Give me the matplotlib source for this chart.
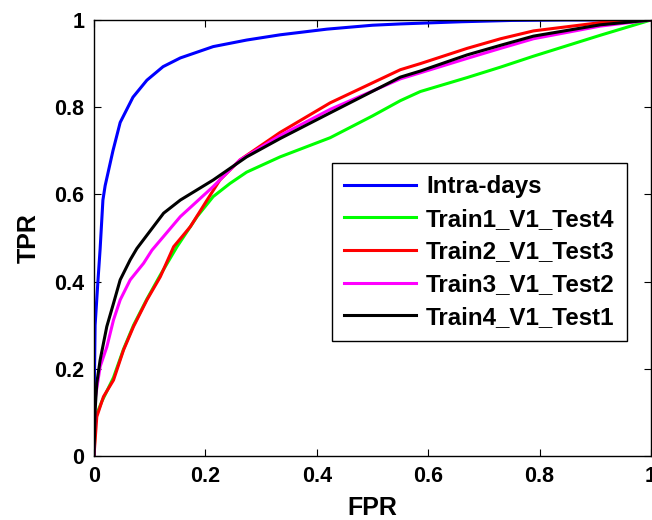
import matplotlib
matplotlib.use("Agg")
import matplotlib.pyplot as plt

plt.rcParams['font.family'] = ['Liberation Sans', 'DejaVu Sans']
plt.rcParams['font.weight'] = 'bold'

labels = ["Intra-days", "Train1_V1_Test4", "Train2_V1_Test3", "Train3_V1_Test2", "Train4_V1_Test1"]
colors = ["#0000ff", "#00ff00", "#ff0000", "#ff00ff", "#000000"]

intra_fpr = [0, 0, 0.002, 0.007, 0.011, 0.016, 0.02, 0.034, 0.047, 0.07, 0.095, 0.124, 0.155, 0.214,
             0.274, 0.334, 0.418, 0.5, 0.55, 0.66, 0.75, 0.85, 1.0]
intra_tpr = [0, 0.1, 0.3, 0.40, 0.475, 0.587, 0.62, 0.70, 0.765, 0.823, 0.862, 0.893, 0.913, 0.939,
             0.954, 0.966, 0.979, 0.988, 0.991, 0.996, 0.999, 1.0, 1.0]

t1_fpr = [0, 0.003, 0.014, 0.035, 0.053, 0.071, 0.095, 0.119, 0.149, 0.185, 0.214, 0.244, 0.274, 0.334,
          0.424, 0.5, 0.55, 0.586, 0.67, 0.73, 0.789, 0.909, 1.0]
t1_tpr = [0, 0.09, 0.125, 0.18, 0.245, 0.30, 0.36, 0.415, 0.48, 0.549, 0.595, 0.625, 0.651, 0.686,
          0.73, 0.78, 0.815, 0.836, 0.868, 0.892, 0.917, 0.965, 1.0]

t2_fpr = [0, 0.005, 0.017, 0.035, 0.053, 0.071, 0.095, 0.119, 0.143, 0.173, 0.203, 0.226, 0.262, 0.334,
          0.424, 0.55, 0.586, 0.67, 0.73, 0.789, 0.909, 1.0]
t2_tpr = [0, 0.09, 0.136, 0.174, 0.243, 0.297, 0.358, 0.411, 0.48, 0.526, 0.587, 0.633, 0.679, 0.742,
          0.81, 0.886, 0.90, 0.935, 0.957, 0.975, 0.994, 1.0]

t3_fpr = [0, 0.002, 0.011, 0.023, 0.035, 0.047, 0.065, 0.089, 0.104, 0.155, 0.214, 0.262, 0.334,
          0.424, 0.55, 0.586, 0.67, 0.73, 0.789, 0.909, 1.0]
t3_tpr = [0, 0.13, 0.205, 0.25, 0.312, 0.358, 0.404, 0.442, 0.472, 0.549, 0.618, 0.679, 0.735,
          0.795, 0.865, 0.879, 0.912, 0.935, 0.957, 0.986, 1.0]

t4_fpr = [0, 0.002, 0.005, 0.011, 0.023, 0.035, 0.047, 0.065, 0.077, 0.125, 0.155, 0.214, 0.274, 0.334,
          0.424, 0.55, 0.586, 0.67, 0.73, 0.789, 0.909, 1.0]
t4_tpr = [0, 0.105, 0.167, 0.22, 0.297, 0.35, 0.404, 0.45, 0.476, 0.557, 0.587, 0.633, 0.686, 0.728,
          0.787, 0.869, 0.883, 0.92, 0.942, 0.963, 0.989, 1.0]

xs = [intra_fpr, t1_fpr, t2_fpr, t3_fpr, t4_fpr]
ys = [intra_tpr, t1_tpr, t2_tpr, t3_tpr, t4_tpr]

tick_vals = [0, 0.2, 0.4, 0.6, 0.8, 1]
tick_labels = ["0", "0.2", "0.4", "0.6", "0.8", "1"]

fig = plt.figure(figsize=(6.52, 5.2), dpi=100)
ax = fig.add_axes([94/652, 64/520, 557/652, 436/520])

for x, y, c, lab in zip(xs, ys, colors, labels):
    ax.plot(x, y, color=c, lw=2.2, label=lab)

ax.set_xlim(0, 1)
ax.set_ylim(0, 1)
ax.set_xticks(tick_vals)
ax.set_xticklabels(tick_labels)
ax.set_yticks(tick_vals)
ax.set_yticklabels(tick_labels)
ax.tick_params(direction='in', length=5, width=0.8, top=True, right=True,
               labelsize=15.5, pad=7)
for s in ax.spines.values():
    s.set_linewidth(1.0)

ax.set_xlabel("FPR", fontsize=18, fontweight='bold', labelpad=7)
ax.set_ylabel("TPR", fontsize=18, fontweight='bold', labelpad=10)

leg = ax.legend(loc='upper left', bbox_to_anchor=(0.427, 0.672), borderaxespad=0,
                handlelength=3.0, handletextpad=0.4, labelspacing=0.4,
                borderpad=0.5, fancybox=False, framealpha=1, edgecolor='black',
                prop={'weight': 'bold', 'size': 17.4})
leg.get_frame().set_linewidth(1.0)
for line in leg.get_lines():
    line.set_linewidth(2.2)

fig.savefig("out.png", dpi=100)
